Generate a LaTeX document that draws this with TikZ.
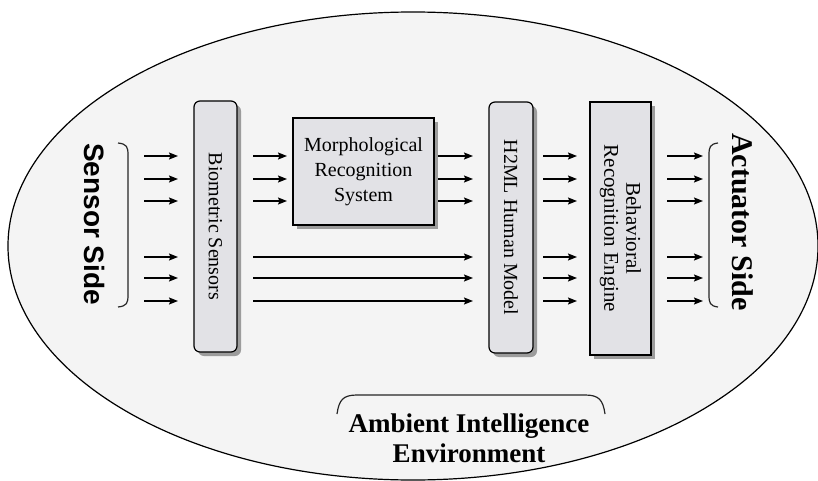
\documentclass[tikz,border=0pt]{standalone}
\usepackage{fontspec}
\setmainfont{Liberation Serif}
\newfontfamily\sansbold{Liberation Sans}[FakeStretch=1]
\usetikzlibrary{arrows.meta,shadows}
\definecolor{envfill}{HTML}{F4F4F4}
\definecolor{boxfill}{HTML}{E2E2E6}
\definecolor{shadowgray}{HTML}{9C9C9C}
\tikzset{
  block/.style={draw=black, line width=1.2pt, fill=boxfill, inner sep=0pt, outer sep=0pt,
    drop shadow={shadow xshift=4pt, shadow yshift=-4pt, fill=shadowgray, opacity=1}},
  roundblock/.style={block, rounded corners=6pt},
  boxtext/.style={font=\fontsize{20}{22}\selectfont, align=center, inner sep=0pt},
  flow/.style={line width=1.3pt, -{Stealth[length=9pt,width=7pt,inset=1.5pt]}},
  bracket/.style={line width=1.2pt, draw=black!85}
}
\begin{document}
\begin{tikzpicture}[x=1pt, y=-1pt]
\useasboundingbox (0,0) rectangle (818,481);
\fill[white] (0,0) rectangle (818,481);

% environment
\draw[line width=1.2pt, fill=envfill] (413,246) ellipse [x radius=405, y radius=234];

% processing blocks
\node[roundblock, minimum width=43pt, minimum height=251pt] (bio) at (215.5,226.5) {};
\node[block, minimum width=141pt, minimum height=107pt] (morph) at (363.5,171.5) {};
\node[roundblock, minimum width=44pt, minimum height=251pt] (h2m) at (511,227.5) {};
\node[block, minimum width=61pt, minimum height=253pt] (beh) at (620.5,228.5) {};

\node[boxtext, rotate=-90] (biotext) at (bio.center) {Biometric Sensors};
\node[boxtext, font=\fontsize{20}{25}\selectfont] (morphtext) at (morph.center) {Morphological\\Recognition\\System};
\node[boxtext, rotate=-90] (h2mtext) at (h2m.center) {H2ML Human Model};
\node[boxtext, rotate=-90, font=\fontsize{21}{22}\selectfont] (behtext) at (beh.center) {Behavioral\\Recognition Engine};

% side labels and their brackets
\node[rotate=-90, inner sep=0pt, font=\sansbold\bfseries\fontsize{28}{30}\selectfont] (sensor) at (95,224) {Sensor Side};
\node[rotate=-90, inner sep=0pt, font=\bfseries\fontsize{30}{32}\selectfont] (actuator) at (743,222) {Actuator Side};
\draw[bracket] (118,143) .. controls (127,144) and (128,147) .. (128,155) -- (128,295) .. controls (128,303) and (127,306) .. (118,307);
\draw[bracket] (718,143) .. controls (710,144) and (709,147) .. (709,155) -- (709,295) .. controls (709,303) and (710,306) .. (718,307);
\coordinate (sensB) at (128,0);
\coordinate (actB) at (709,0);

% environment label
\draw[bracket] (337,414) .. controls (339,400) and (343,395) .. (357,395) -- (585,395) .. controls (599,395) and (603,400) .. (605,414);
\node[inner sep=0pt, align=center, font=\bfseries\fontsize{27}{30}\selectfont] (ami) at (469,438) {Ambient Intelligence\\Environment};

% signal rows
\foreach \n/\y in {1/156,2/179,3/201,4/257,5/278,6/301} {
  \coordinate (r\n) at (0,\y);
}

% sensor side -> biometric sensors
\foreach \n in {1,...,6} {
  \draw[flow, shorten <=16pt, shorten >=16pt] (sensB |- r\n) -- (bio.west |- r\n);
}
% biometric sensors -> morphological recognition
\foreach \n in {1,2,3} {
  \draw[flow, shorten <=16pt, shorten >=6pt] (bio.east |- r\n) -- (morph.west |- r\n);
  \draw[flow, shorten <=4pt, shorten >=16pt] (morph.east |- r\n) -- (h2m.west |- r\n);
}
% biometric sensors -> human model
\foreach \n in {4,5,6} {
  \draw[flow, shorten <=16pt, shorten >=16pt] (bio.east |- r\n) -- (h2m.west |- r\n);
}
% human model -> behavioral engine -> actuator side
\foreach \n in {1,...,6} {
  \draw[flow, shorten <=10pt, shorten >=13pt] (h2m.east |- r\n) -- (beh.west |- r\n);
  \draw[flow, shorten <=16pt, shorten >=6pt] (beh.east |- r\n) -- (actB |- r\n);
}
\end{tikzpicture}
\end{document}
